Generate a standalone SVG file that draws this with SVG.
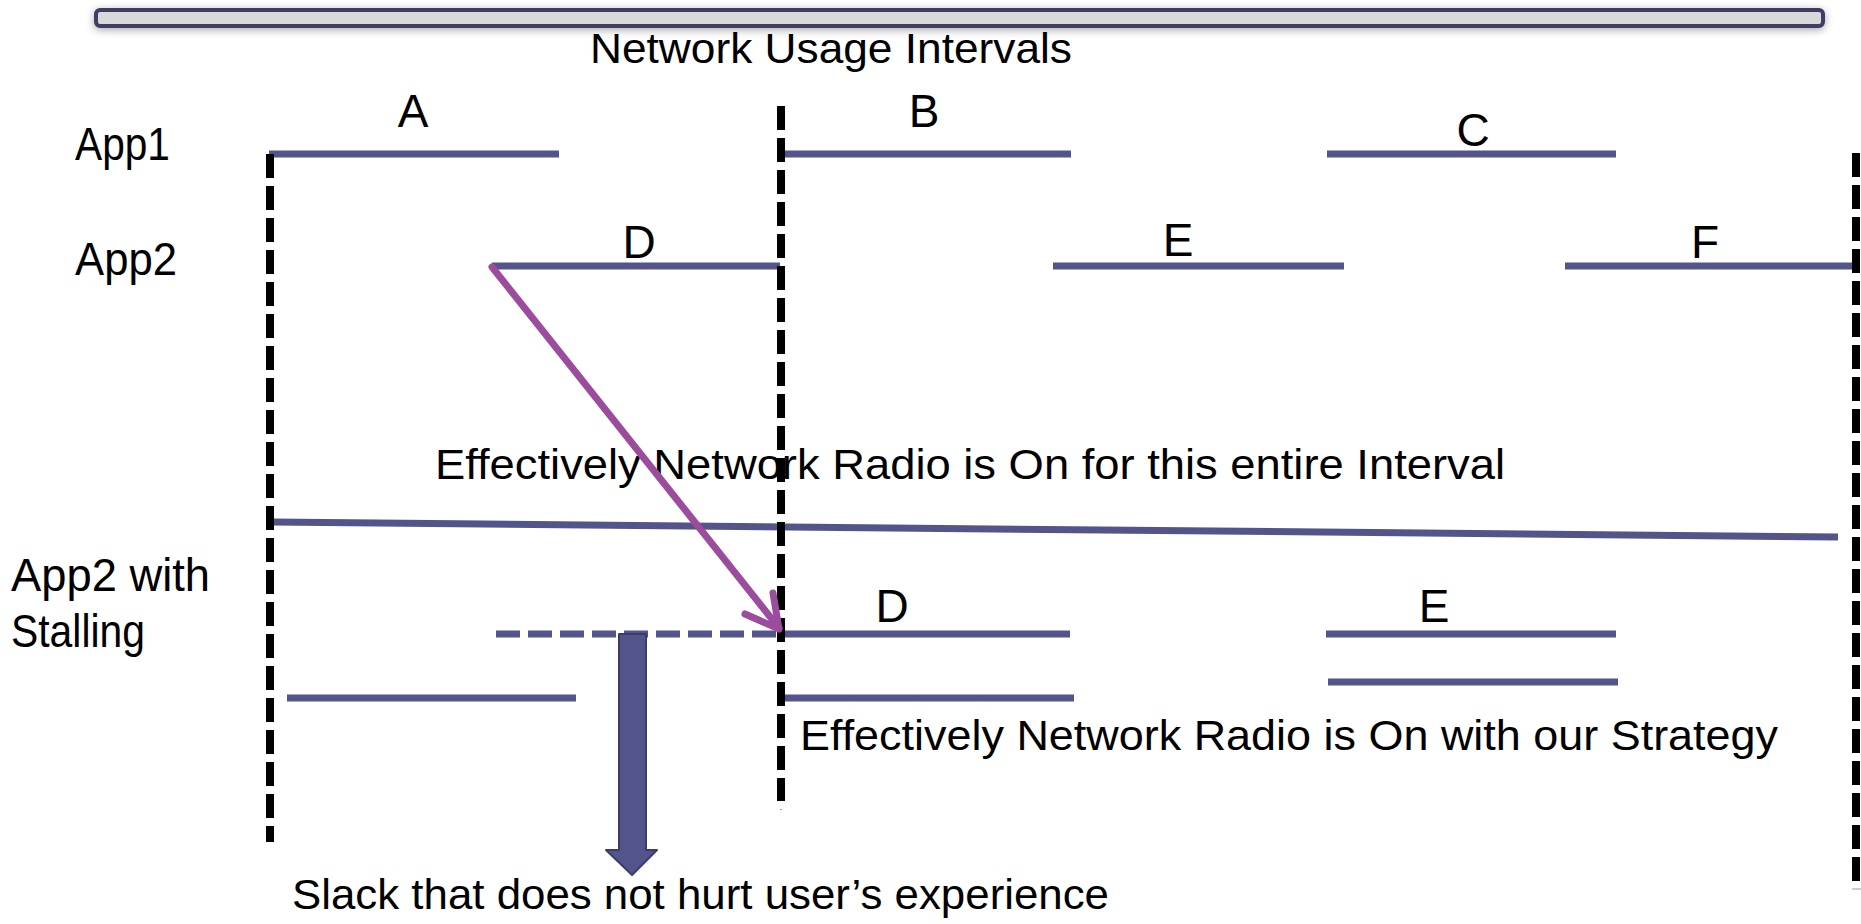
<svg xmlns="http://www.w3.org/2000/svg" width="1861" height="924" viewBox="0 0 1861 924">
<defs>
<style>
text{font-family:"Liberation Sans","DejaVu Sans",sans-serif;fill:#000;}
.lbl{font-size:46px;text-anchor:middle;}
.app{font-size:46px;}
.txt{font-size:43px;}
.seg{stroke:#53548a;stroke-width:7;fill:none;}
.vdash{stroke:#000;stroke-width:8;stroke-dasharray:24 8;fill:none;}
</style>
<filter id="sh" x="-5%" y="-100%" width="110%" height="300%">
<feGaussianBlur in="SourceAlpha" stdDeviation="4"/>
<feOffset dx="0" dy="2"/>
<feComponentTransfer><feFuncA type="linear" slope="0.35"/></feComponentTransfer>
<feMerge><feMergeNode/><feMergeNode in="SourceGraphic"/></feMerge>
</filter>
</defs>
<rect width="1861" height="924" fill="#fff"/>

<g id="titlebar">
<rect x="96" y="10" width="1727" height="16" rx="4" fill="#d9d9d9" stroke="#3f3e66" stroke-width="4" filter="url(#sh)"/>
</g>
<g id="title"><text class="txt" x="590" y="63" textLength="482" lengthAdjust="spacingAndGlyphs">Network Usage Intervals</text></g>

<g id="row-labels">
<text class="app" x="75" y="160" textLength="95" lengthAdjust="spacingAndGlyphs">App1</text>
<text class="app" x="75" y="275" textLength="102" lengthAdjust="spacingAndGlyphs">App2</text>
<text class="app" x="11" y="591" textLength="199" lengthAdjust="spacingAndGlyphs">App2 with</text>
<text class="app" x="11" y="647" textLength="134" lengthAdjust="spacingAndGlyphs">Stalling</text>
</g>

<g id="interval-A"><line class="seg" x1="269" y1="154" x2="559" y2="154"/><text class="lbl" x="413" y="127">A</text></g>
<g id="interval-B"><line class="seg" x1="785" y1="154" x2="1071" y2="154"/><text class="lbl" x="924" y="127">B</text></g>
<g id="interval-C"><line class="seg" x1="1327" y1="154" x2="1616" y2="154"/><text class="lbl" x="1473" y="146">C</text></g>
<g id="interval-D"><line class="seg" x1="492" y1="266" x2="780" y2="266"/><text class="lbl" x="639" y="258">D</text></g>
<g id="interval-E"><line class="seg" x1="1053" y1="266" x2="1344" y2="266"/><text class="lbl" x="1178" y="256">E</text></g>
<g id="interval-F"><line class="seg" x1="1565" y1="266" x2="1853" y2="266"/><text class="lbl" x="1705" y="258">F</text></g>

<g id="radio-on-entire">
<text class="txt" x="435" y="479" textLength="1070" lengthAdjust="spacingAndGlyphs">Effectively Network Radio is On for this entire Interval</text>
<line class="seg" x1="272" y1="522" x2="1838" y2="537"/>
</g>

<g id="stalled-D">
<line class="seg" x1="496" y1="634" x2="780" y2="634" stroke-dasharray="24 8"/>
<line class="seg" x1="783" y1="634" x2="1070" y2="634"/>
<text class="lbl" x="892" y="622">D</text>
</g>
<g id="stalled-E">
<line class="seg" x1="1326" y1="634" x2="1616" y2="634"/>
<text class="lbl" x="1434" y="622">E</text>
</g>

<g id="radio-on-strategy">
<line class="seg" x1="287" y1="698" x2="576" y2="698"/>
<line class="seg" x1="785" y1="698" x2="1074" y2="698"/>
<line class="seg" x1="1328" y1="682" x2="1618" y2="682"/>
<text class="txt" x="800" y="750" textLength="978" lengthAdjust="spacingAndGlyphs">Effectively Network Radio is On with our Strategy</text>
</g>

<g id="boundaries">
<line class="vdash" x1="270" y1="154" x2="270" y2="842"/>
<line class="vdash" x1="781" y1="106" x2="781" y2="801"/>
<line x1="781" y1="809" x2="781" y2="810" stroke="#999" stroke-width="2"/>
<line class="vdash" x1="1856" y1="153" x2="1856" y2="882"/>
<line x1="1852" y1="889" x2="1861" y2="889" stroke="#999" stroke-width="1"/>
</g>

<g id="connectors">
<g id="stall-arrow" stroke="#9c4c9c" stroke-width="7" fill="none" stroke-linecap="round" stroke-linejoin="round">
<line x1="492" y1="267" x2="779" y2="628"/>
<polyline points="745,614 779,629 773,593"/>
</g>
<g id="slack-arrow">
<path d="M619,634 L646,634 L646,850 L657,850 L632,875 L606,850 L619,850 Z" fill="#53548a" stroke="#3c3c6a" stroke-width="2" stroke-linejoin="round"/>
</g>
</g>

<g id="slack-label">
<text class="txt" x="292" y="909" font-size="41" textLength="817" lengthAdjust="spacingAndGlyphs">Slack that does not hurt user’s experience</text>
</g>
</svg>
